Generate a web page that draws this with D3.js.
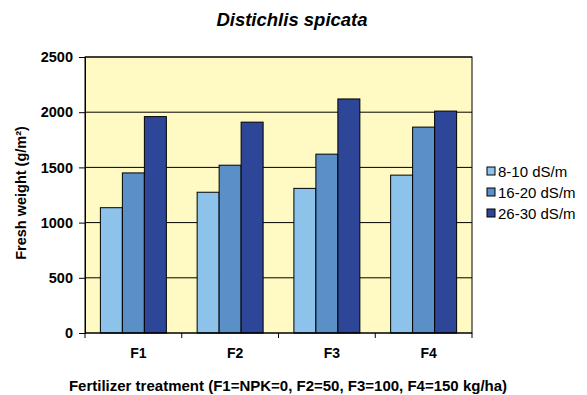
<!DOCTYPE html>
<html>
<head>
<meta charset="utf-8">
<script src="https://cdn.jsdelivr.net/npm/d3@7"></script>
<style>
body { margin: 0; background: #fff; }
svg { font-family: "Liberation Sans", Arial, sans-serif; }
</style>
</head>
<body>
<svg width="587" height="395"></svg>
<script>
var categories = ["F1", "F2", "F3", "F4"];
var seriesNames = ["8-10 dS/m", "16-20 dS/m", "26-30 dS/m"];
var low = [1135, 1275, 1310, 1430];
var mid = [1450, 1520, 1620, 1865];
var high = [1960, 1910, 2120, 2010];
var yTicks = [0, 500, 1000, 1500, 2000, 2500];
var colors = ["#8dc2ea", "#5b8fc8", "#2e4698"];

var series = [low, mid, high];

var svg = d3.select("svg"),
	marginLeft = 85, marginTop = 57, width = 387, height = 276;

var xScale = d3.scaleBand().domain(categories).range([0, width]).paddingInner(0.318).paddingOuter(0.159),
	x1 = d3.scaleBand().domain(d3.range(seriesNames.length)).range([0, xScale.bandwidth()]),
	yScale = d3.scaleLinear().domain([0, 2500]).range([height, 0]);

var g = svg.append("g")
	.attr("transform", "translate(" + marginLeft + "," + marginTop + ")");

// plot background
g.append("rect")
	.attr("width", width)
	.attr("height", height)
	.attr("fill", "#fffac4");

// grid lines
g.selectAll(".grid")
	.data(yTicks.slice(1))
	.enter().append("line")
	.attr("x1", 0).attr("x2", width)
	.attr("y1", d => yScale(d)).attr("y2", d => yScale(d))
	.attr("stroke", "#000").attr("stroke-width", 1);

// bars
var groups = g.selectAll(".grp")
	.data(categories)
	.enter().append("g")
	.attr("transform", d => "translate(" + xScale(d) + ",0)");

groups.selectAll("rect")
	.data((c, i) => series.map((s, k) => ({k: k, v: s[i]})))
	.enter().append("rect")
	.attr("x", d => x1(d.k))
	.attr("y", d => yScale(d.v))
	.attr("width", x1.bandwidth())
	.attr("height", d => height - yScale(d.v))
	.attr("fill", d => colors[d.k])
	.attr("stroke", "#000")
	.attr("stroke-width", 1);

// frame
g.append("rect")
	.attr("width", width)
	.attr("height", height)
	.attr("fill", "none")
	.attr("stroke", "#000");

// y axis
var yAxis = g.append("g")
	.call(d3.axisLeft(yScale).tickValues(yTicks).tickSize(6).tickPadding(6).tickFormat(d3.format("d")));
yAxis.select(".domain").attr("stroke", "#000");
yAxis.selectAll("text")
	.attr("font-size", 14.5).attr("font-weight", "bold")
	.attr("font-family", "Liberation Sans, Arial, sans-serif").attr("fill", "#000");

// x axis: ticks at category boundaries
var xAxis = g.append("g").attr("transform", "translate(0," + height + ")");
xAxis.append("line").attr("x1", 0).attr("x2", width).attr("stroke", "#000");
xAxis.selectAll(".tk")
	.data(d3.range(categories.length + 1))
	.enter().append("line")
	.attr("x1", d => d * xScale.step()).attr("x2", d => d * xScale.step())
	.attr("y1", 0).attr("y2", 5)
	.attr("stroke", "#000");
xAxis.selectAll(".lbl")
	.data(categories)
	.enter().append("text")
	.attr("x", d => xScale(d) + xScale.bandwidth() / 2 + 5)
	.attr("y", 25)
	.attr("text-anchor", "middle")
	.attr("font-size", 14).attr("font-weight", "bold")
	.text(d => d);

// titles
svg.append("text")
	.attr("x", 292).attr("y", 26)
	.attr("text-anchor", "middle")
	.attr("font-size", 18.5).attr("font-weight", "bold").attr("font-style", "italic")
	.text("Distichlis spicata");

svg.append("text")
	.attr("x", 288).attr("y", 391)
	.attr("text-anchor", "middle")
	.attr("font-size", 15).attr("font-weight", "bold")
	.text("Fertilizer treatment (F1=NPK=0, F2=50, F3=100, F4=150 kg/ha)");

svg.append("text")
	.attr("transform", "translate(26,193) rotate(-90)")
	.attr("text-anchor", "middle")
	.attr("font-size", 14.5).attr("font-weight", "bold")
	.text("Fresh weight (g/m²)");

// legend
var legend = svg.selectAll(".legend")
	.data(seriesNames)
	.enter().append("g")
	.attr("transform", (d, i) => "translate(487," + (167 + i * 21) + ")");
legend.append("rect")
	.attr("width", 8).attr("height", 8)
	.attr("fill", (d, i) => colors[i])
	.attr("stroke", "#000");
legend.append("text")
	.attr("x", 11).attr("y", 9.5)
	.attr("font-size", 15)
	.text(d => d);
</script>
</body>
</html>
